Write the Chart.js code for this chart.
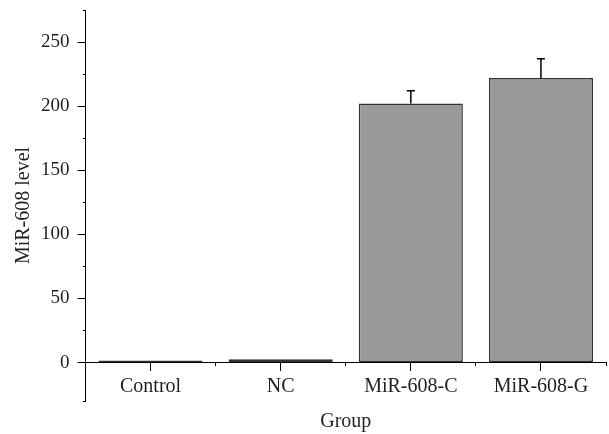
<!DOCTYPE html>
<html>
<head>
<meta charset="utf-8">
<script src="https://cdn.jsdelivr.net/npm/chart.js@4/dist/chart.umd.min.js"></script>
<style>
html,body{margin:0;padding:0;background:#fff;}
#wrap{width:609px;height:434px;}
</style>
</head>
<body>
<div id="wrap"><canvas id="c" width="609" height="434"></canvas></div>
<script>
const categories = ['Control', 'NC', 'MiR-608-C', 'MiR-608-G'];
const levels = [1.5, 2.5, 202, 222];
const errors = [0, 0, 10, 15];
const majorTicks = [0, 50, 100, 150, 200, 250];
const minorTicks = [-30, 25, 75, 125, 175, 225, 275];
const yMin = -30, yMax = 275;

const FONT = 'Liberation Serif';
const TXT = '#231f20';

const errorBars = {
  id: 'errorBars',
  afterDatasetsDraw(chart) {
    const meta = chart.getDatasetMeta(0);
    const ys = chart.scales.y;
    const ctx = chart.ctx;
    ctx.save();
    ctx.strokeStyle = '#000';
    ctx.lineWidth = 1.5;
    meta.data.forEach((bar, i) => {
      if (!errors[i]) return;
      const top = ys.getPixelForValue(levels[i] + errors[i]);
      const base = ys.getPixelForValue(levels[i]);
      ctx.beginPath();
      ctx.moveTo(bar.x, base);
      ctx.lineTo(bar.x, top);
      ctx.moveTo(bar.x - 4, top);
      ctx.lineTo(bar.x + 4, top);
      ctx.stroke();
    });
    ctx.restore();
  }
};

new Chart(document.getElementById('c'), {
  type: 'bar',
  data: {
    labels: categories,
    datasets: [{
      data: levels,
      backgroundColor: '#999999',
      borderColor: '#333333',
      borderWidth: 1.5,
      borderSkipped: false,
      categoryPercentage: 1,
      barPercentage: 0.8
    }]
  },
  options: {
    responsive: false,
    animation: false,
    devicePixelRatio: 1,
    layout: { padding: { left: 4, right: 3, top: 10, bottom: 33 } },
    plugins: { legend: { display: false }, tooltip: { enabled: false } },
    scales: {
      x: {
        type: 'category',
        offset: true,
        position: { y: 0 },
        afterFit(scale) { scale.paddingLeft = 0; scale.paddingRight = 0; },
        grid: { display: true, drawOnChartArea: false, offset: false, tickLength: 8, color: '#000', tickColor: '#000', tickWidth: 1 },
        border: { display: true, color: '#000', width: 1 },
        ticks: { color: TXT, font: { family: FONT, size: 20 }, padding: 4, maxRotation: 0, autoSkip: false },
        title: { display: true, text: 'Group', color: TXT, font: { family: FONT, size: 20 }, padding: { top: 7, bottom: 0 } }
      },
      x2: {
        type: 'category',
        labels: categories,
        offset: true,
        position: { y: 0 },
        afterFit(scale) { scale.paddingLeft = 0; scale.paddingRight = 0; },
        grid: { display: true, drawOnChartArea: false, offset: true, tickLength: 3, color: '#000', tickColor: '#000', tickWidth: 1 },
        border: { display: false },
        ticks: { display: false }
      },
      y: {
        type: 'linear',
        position: 'left',
        min: yMin,
        max: yMax,
        afterBuildTicks(scale) { scale.ticks = majorTicks.map(v => ({ value: v })); },
        afterFit(scale) { scale.paddingTop = 0; scale.paddingBottom = 0; scale.width = 81.5; },
        grid: { display: true, drawOnChartArea: false, tickLength: 8, color: '#000', tickColor: '#000', tickWidth: 1 },
        border: { display: true, color: '#000', width: 1 },
        ticks: { color: TXT, font: { family: FONT, size: 19 }, padding: 8 },
        title: { display: true, text: 'MiR-608 level', color: TXT, font: { family: FONT, size: 20 }, padding: { top: 7.5, bottom: 5.5 } }
      },
      y2: {
        type: 'linear',
        position: { x: -0.5 },
        min: yMin,
        max: yMax,
        afterBuildTicks(scale) { scale.ticks = minorTicks.map(v => ({ value: v })); },
        afterFit(scale) { scale.paddingTop = 0; scale.paddingBottom = 0; },
        grid: { display: true, drawOnChartArea: false, tickLength: 3, color: '#000', tickColor: '#000', tickWidth: 1 },
        border: { display: false },
        ticks: { display: false }
      }
    }
  },
  plugins: [errorBars]
});
</script>
</body>
</html>
